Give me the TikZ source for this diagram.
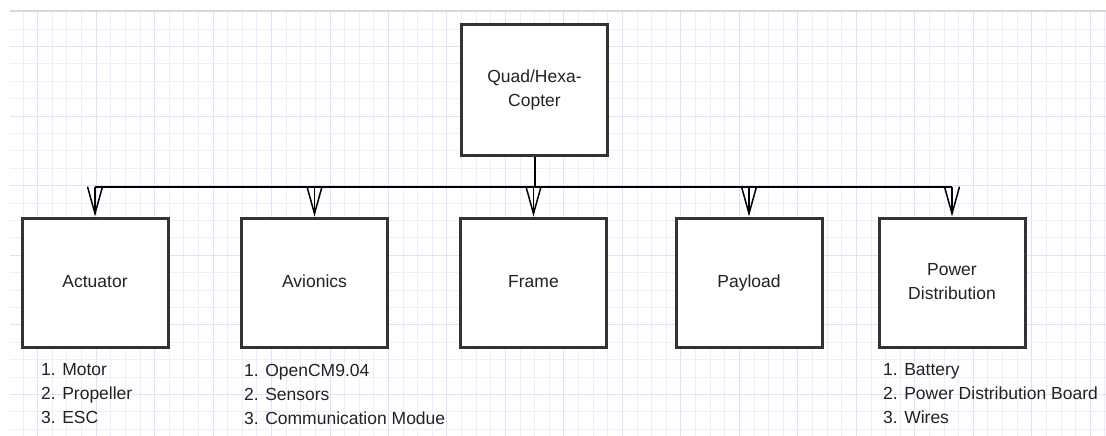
\documentclass[tikz,border=0pt]{standalone}
\usepackage{fontspec}
\setmainfont{Liberation Sans}
\usetikzlibrary{arrows.meta}
\definecolor{gridminor}{HTML}{EDEDFD}
\definecolor{gridmajor}{HTML}{E0E0FA}
\definecolor{boxline}{HTML}{333333}
\definecolor{txt}{HTML}{222222}
\tikzset{
  blk/.style={draw=boxline, line width=3pt, fill=white, minimum width=146pt, minimum height=130pt,
    inner sep=0pt, align=center, text=txt, font=\fontsize{17.5}{24}\selectfont},
  lst/.style={anchor=west, align=left, inner sep=0pt, text=txt, font=\fontsize{17.5}{24}\selectfont},
  bus/.style={draw=black, line width=1.5pt},
  arr/.style={draw=black, line width=1.5pt, -{Straight Barb[length=27pt,width=15pt]}},
}
\begin{document}
\begin{tikzpicture}[x=1pt,y=-1pt]
\useasboundingbox (0,0) rectangle (1106,436);
\fill[white] (0,0) rectangle (1106,436);
% grid
\foreach \i in {0,...,74} {
  \pgfmathsetmacro{\xx}{23+14.62*\i}
  \pgfmathtruncatemacro{\m}{mod(\i,4)}
  \ifnum\m=1
    \draw[gridmajor, line width=1pt] (\xx,12) -- (\xx,436);
  \else
    \draw[gridminor, line width=0.9pt] (\xx,12) -- (\xx,436);
  \fi
}
\foreach \j in {0,...,23} {
  \pgfmathsetmacro{\yy}{29+17.4*\j}
  \pgfmathtruncatemacro{\m}{mod(\j,4)}
  \ifnum\m=1
    \draw[gridmajor, line width=1pt] (10,\yy) -- (1106,\yy);
  \else
    \draw[gridminor, line width=0.9pt] (10,\yy) -- (1106,\yy);
  \fi
}
\draw[black!15, line width=2pt] (10,11) -- (1106,11);

% boxes
\node[blk] (top) at (534.5,90) {\strut Quad/Hexa-\\Copter\strut};
\node[blk, minimum height=129pt] (act) at (95,282.5) {Actuator\strut};
\node[blk, minimum height=129pt] (avi) at (314.5,282.5) {Avionics\strut};
\node[blk, minimum height=129pt] (frame) at (533.5,282.5) {Frame\strut};
\node[blk, minimum height=129pt] (pay) at (749,282.5) {Payload\strut};
\node[blk, minimum height=129pt] (pow) at (952,282.5) {\strut Power\\Distribution\strut};

% lists
\node[lst] (actlist) at (41,394) {1. Motor\\2. Propeller\\3. ESC};
\node[lst] (avilist) at (244,394) {1. OpenCM9.04\\2. Sensors\\3. Communication Modue};
\node[lst] (powlist) at (883,394) {1. Battery\\2. Power Distribution Board\\3. Wires};

% connectors
\coordinate (bus) at (534.5,187);
\draw[bus, line width=2pt] (top.south) -- (bus);
\draw[bus] (act.north |- bus) -- (pow.north |- bus);
\foreach \n in {act,avi,frame,pay,pow}
  \draw[arr] (\n.north |- bus) -- (\n.north);
\end{tikzpicture}
\end{document}
